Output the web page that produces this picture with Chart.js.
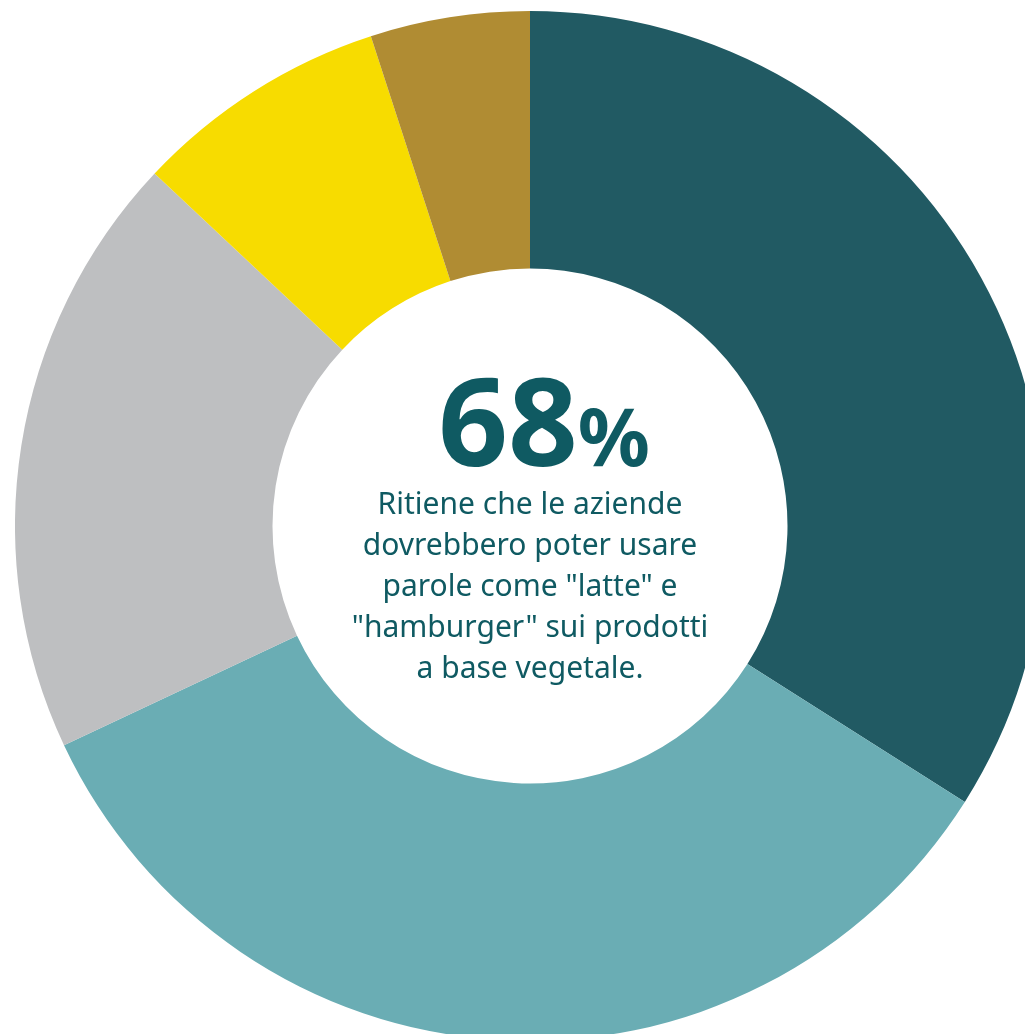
<!DOCTYPE html>
<html>
<head>
<meta charset="utf-8">
<script src="https://cdn.jsdelivr.net/npm/chart.js@4.4.1/dist/chart.umd.min.js"></script>
<style>
  html, body { margin: 0; padding: 0; background: #ffffff; overflow: hidden; width: 1025px; height: 1034px; }
  #wrap { position: absolute; left: 15px; top: 11px; width: 1030px; height: 1030px; }
  #center {
    position: absolute; left: 280px; top: 360px; width: 500px;
    text-align: center; color: #0f5a62; font-family: "Noto Sans", "Open Sans", sans-serif;
  }
  #big { font-weight: 700; font-size: 122px; line-height: 118px; letter-spacing: 0; margin-left: 28px; }
  #big span { font-size: 80px; }
  #desc { font-size: 30px; line-height: 41px; margin-top: -12px; }
</style>
</head>
<body>
<div id="wrap"><canvas id="chart"></canvas></div>
<div id="center">
  <div id="big">68<span>%</span></div>
  <div id="desc">Ritiene che le aziende<br>dovrebbero poter usare<br>parole come "latte" e<br>"hamburger" sui prodotti<br>a base vegetale.</div>
</div>
<script>
// segments clockwise from 12 o'clock
const labels = ['A', 'B', 'C', 'D', 'E'];
const values = [34, 34, 19, 8, 5];
const colors = ['#215a63', '#6aadb4', '#bebfc1', '#f7dc00', '#b08c33'];

new Chart(document.getElementById('chart'), {
  type: 'doughnut',
  data: {
    labels: labels,
    datasets: [{ data: values, backgroundColor: colors, borderWidth: 0 }]
  },
  options: {
    responsive: true,
    maintainAspectRatio: false,
    animation: false,
    cutout: '50%',
    layout: { padding: 0 },
    plugins: { legend: { display: false }, tooltip: { enabled: false } }
  }
});
</script>
</body>
</html>
